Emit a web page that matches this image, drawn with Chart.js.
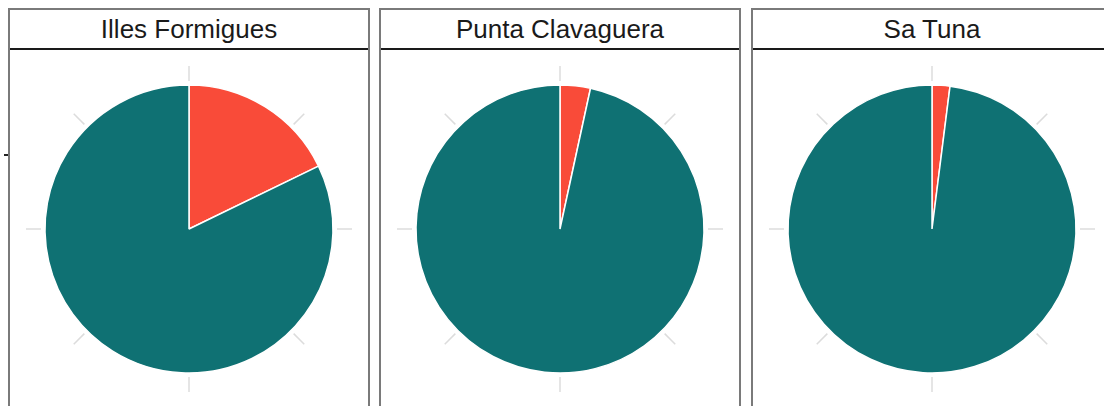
<!DOCTYPE html>
<html>
<head>
<meta charset="utf-8">
<script src="https://cdn.jsdelivr.net/npm/chart.js@4/dist/chart.umd.min.js"></script>
<style>
  html, body { margin: 0; padding: 0; background: #fff; overflow: hidden; width: 1104px; height: 406px; }
  .panel { position: absolute; top: 8px; width: 358px; height: 420px; border: 2px solid #7a7a7a; box-sizing: content-box; background: #fff; }
  .strip { height: 38px; border-bottom: 2px solid #1a1a1a; text-align: center; font-family: "Liberation Sans", Arial, sans-serif; font-size: 26px; line-height: 38px; color: #1a1a1a; }
  .panel canvas { position: absolute; left: 0; top: 40px; }
  .tick { position: absolute; left: 4px; top: 154px; width: 6px; height: 2px; background: #222; }
</style>
</head>
<body>
<div class="tick"></div>
<script>
const sites = ['Illes Formigues', 'Punta Clavaguera', 'Sa Tuna'];
const categories = ['Present', 'Absent'];
const presentPct = [17.8, 3.4, 2.0];
const absentPct = [82.2, 96.6, 98.0];
const sliceColors = ['#F94B39', '#0F7173'];

const panelLeft = [8, 379, 751];

// faint polar grid stubs around the pie, like ggplot's coord_polar
const gridStubs = {
  id: 'gridStubs',
  beforeDatasetsDraw(chart) {
    const arc = chart.getDatasetMeta(0).data[0];
    const ctx = chart.ctx;
    const r0 = arc.outerRadius + 4, r1 = arc.outerRadius + 19;
    ctx.save();
    ctx.strokeStyle = '#dcdcdc';
    ctx.lineWidth = 1.5;
    for (let k = 0; k < 8; k++) {
      const a = k * Math.PI / 4;
      ctx.beginPath();
      ctx.moveTo(arc.x + r0 * Math.cos(a), arc.y + r0 * Math.sin(a));
      ctx.lineTo(arc.x + r1 * Math.cos(a), arc.y + r1 * Math.sin(a));
      ctx.stroke();
    }
    ctx.restore();
  }
};

sites.forEach((site, i) => {
  const panel = document.createElement('div');
  panel.className = 'panel';
  panel.style.left = panelLeft[i] + 'px';
  const strip = document.createElement('div');
  strip.className = 'strip';
  strip.textContent = site;
  panel.appendChild(strip);
  const cv = document.createElement('canvas');
  cv.width = 358;
  cv.height = 358;
  panel.appendChild(cv);
  document.body.appendChild(panel);

  new Chart(cv, {
    type: 'pie',
    data: {
      labels: categories,
      datasets: [{
        data: [presentPct[i], absentPct[i]],
        backgroundColor: sliceColors,
        borderColor: '#ffffff',
        borderWidth: 1.5,
        radius: 144
      }]
    },
    options: {
      responsive: false,
      animation: false,
      layout: { padding: 0 },
      plugins: { legend: { display: false }, tooltip: { enabled: false } }
    },
    plugins: [gridStubs]
  });
});
</script>
</body>
</html>
